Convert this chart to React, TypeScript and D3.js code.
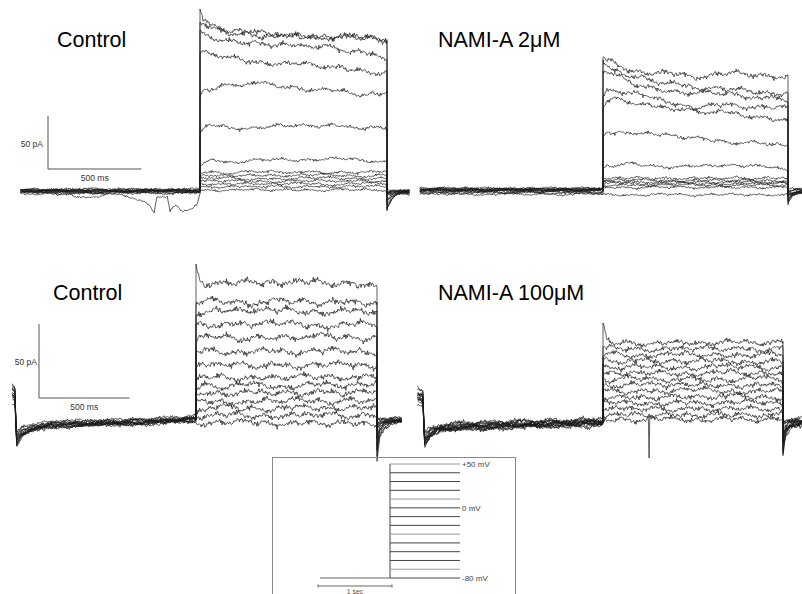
import React from "react";
import * as d3 from "d3";

// sample times (ms after step onset) for the sweep envelopes
const stepTimes = [0, 20, 50, 150, 300, 500, 700, 850, 1000];

// voltage protocol
const stepVoltages = [-80, -70, -60, -50, -40, -30, -20, -10, 0, 10, 20, 30, 40, 50];
const voltageLabels = ["+50 mV", "0 mV", "-80 mV"];
const voltageLabelValues = [50, 0, -80];

const sweepNoise = [
  0.2, 0.6, 0.1, -0.4, -0.2, 0.5, 0.9, 0.3, -0.3, -0.8,
  -0.4, 0.1, 0.7, 0.2, -0.1, 0.4, -0.3, -0.9, -0.5, 0.2,
  0.8, 0.5, -0.2, 0.1, 0.6, 1.0, 0.4, -0.3, -0.6, -0.1,
  0.3, -0.5, -1.0, -0.6, 0.0, 0.5, 0.2, -0.2, 0.4, 0.9,
  0.3, -0.4, -0.7, -0.2, 0.3, 0.7, 0.1, -0.5, -0.2, 0.4,
  0.0, -0.6, -0.9, -0.3, 0.4, 0.8, 0.6, 0.0, -0.4, 0.2,
  0.7, 0.3, -0.3, -0.8, -0.5, 0.1, -0.2, 0.5, 0.9, 0.4,
  -0.2, -0.6, -0.1, 0.6, 0.2, -0.4, -1.0, -0.5, 0.1, 0.6,
  0.3, -0.1, 0.5, 0.8, 0.2, -0.3, -0.7, -0.3, 0.2, -0.2,
  -0.8, -0.4, 0.3, 0.9, 0.5, -0.1, 0.3, 0.7, 0.0, -0.5,
  -0.9, -0.4, 0.2, 0.6, 0.1, -0.3, 0.4, 1.0, 0.5, -0.2,
  -0.6, -0.2, 0.4, 0.1, -0.5, -0.8, -0.3, 0.3, 0.6, 0.0,
];

const sweepSpread = [0.75, 1.2, 0.9, 1.05, 0.8, 1.3, 0.95, 1.1, 0.7, 1.25, 0.85, 1.0, 1.15, 0.9];

// Control (upper), pA
const controlTopSweeps = [
  [172, 163, 158, 152, 149, 146, 145, 144, 142],
  [160, 157, 154, 149, 147, 146, 146, 145, 144],
  [152, 148, 144, 140, 140, 137, 135, 131, 126],
  [133, 131, 128, 125, 122, 120, 117, 114, 111],
  [88, 94, 95, 100, 102, 97, 95, 91, 93],
  [52, 58, 62, 60, 59, 62, 62, 59, 59],
  [24, 27, 29, 27, 29, 29, 31, 29, 27],
  [17, 18, 18, 17, 18, 18, 17, 18, 18],
  [14, 15, 15, 15, 14, 15, 15, 14, 15],
  [11, 12, 12, 12, 11, 12, 12, 12, 12],
  [9, 9, 9, 10, 9, 9, 10, 9, 9],
  [6, 7, 7, 6, 7, 7, 6, 7, 7],
  [4, 4, 4, 4, 4, 4, 4, 4, 4],
  [1, 1, 1, 1, 1, 1, 1, 1, 1],
];
const controlTopHold = [0.5, 1, 0, -0.5, 1.5, -1, 0.5, -1.5, 0, -2, 1, -0.5, -2.5, 0];
const controlTopTailTimes = [1000, 1004, 1025, 1060, 1123];
const controlTopTail = [-18, -15, -8, -3, -1];
const controlTopDipSweeps = [12, 6];
const controlTopDipTimes = [
  [-420, -390, -330, -270, -245, -232, -175, -160, -130, -90, -50, -15, 0],
  [-720, -660, -600, -530, -470],
];
const controlTopDipValues = [
  [0, -2, -6, -11, -18, -3, -4, -17, -12, -17, -14, -10, 0],
  [0, -6, -7, -5, 0],
];

// NAMI-A 2 uM, pA
const nami2Sweeps = [
  [125, 122, 120, 113, 110, 107, 110, 108, 107],
  [121, 117, 113, 107, 102, 97, 94, 92, 92],
  [110, 111, 110, 101, 94, 92, 90, 87, 85],
  [88, 93, 94, 92, 85, 78, 80, 78, 77],
  [78, 84, 87, 83, 78, 74, 73, 68, 64],
  [50, 55, 54, 55, 52, 49, 45, 44, 41],
  [20, 24, 22, 25, 22, 22, 24, 22, 19],
  [11, 11, 11, 11, 11, 11, 11, 11, 11],
  [9, 9, 9, 9, 9, 9, 9, 9, 9],
  [7.5, 7.5, 7.5, 7.5, 7.5, 7.5, 7.5, 7.5, 7.5],
  [6, 6, 6, 6, 6, 6, 6, 6, 6],
  [4.5, 4.5, 4.5, 4.5, 4.5, 4.5, 4.5, 4.5, 4.5],
  [2.5, 2.5, 2.5, 2.5, 2.5, 2.5, 2.5, 2.5, 2.5],
  [-4.5, -4.5, -4.5, -4.5, -4.5, -4.5, -4.5, -4.5, -4.5],
];
const nami2Hold = [0, 1, -0.5, 0.5, -1, 0, 1.5, -1.5, -3, 0.5, -2, 1, -0.5, -4];
const nami2TailTimes = [1000, 1004, 1025, 1060, 1080];
const nami2Tail = [-14, -12, -6, -2, -1];

// Control (lower), pA
const controlBottomSweeps = [
  [102, 94, 92, 91, 92, 93, 92, 91, 90],
  [80, 79, 80, 79, 78, 80, 79, 78, 79],
  [70, 72, 73, 72, 74, 73, 72, 73, 72],
  [62, 64, 64, 63, 65, 64, 63, 64, 64],
  [53, 55, 55, 56, 54, 55, 56, 55, 55],
  [44, 45, 46, 45, 46, 45, 46, 46, 45],
  [34, 36, 36, 37, 36, 36, 36, 37, 36],
  [26, 28, 28, 28, 27, 29, 28, 28, 28],
  [21, 22, 23, 22, 23, 22, 23, 23, 23],
  [16, 17, 18, 17, 18, 17, 18, 18, 18],
  [11, 12, 12, 12, 11, 13, 12, 12, 12],
  [6, 7, 7, 8, 7, 7, 8, 7, 7],
  [2, 2, 2, 3, 2, 2, 3, 2, 2],
  [-2, -2, -3, -3, -2, -3, -3, -3, -3],
];
const controlBottomHold = [0.5, -0.5, 1, 0, -1, 0.5, -0.5, 1, -1.5, 0, 1.5, -1, 0, -2];
const controlBottomDriftTimes = [-1015, -1000, -997, -990, -960, -900, -800, -600, -300, 0];
const controlBottomDrift = [18, 16, 0, -14, -9, -6, -4, -3, -2, 0];
const controlBottomTailTimes = [1000, 1003, 1015, 1040, 1080, 1140];
const controlBottomTail = [-28, -24, -12, -6, -3, -2];

// NAMI-A 100 uM, pA
const nami100Sweeps = [
  [66, 55, 53, 53, 52, 53, 53, 53, 53],
  [50, 49, 49, 49, 48, 49, 49, 48, 49],
  [45, 45, 45, 44, 45, 45, 44, 45, 45],
  [41, 41, 40, 41, 40, 41, 40, 40, 40],
  [37, 36, 36, 37, 36, 36, 37, 36, 36],
  [32, 32, 33, 32, 32, 32, 33, 32, 32],
  [28, 28, 28, 29, 28, 28, 28, 29, 28],
  [24, 24, 24, 24, 25, 24, 24, 24, 24],
  [20, 20, 20, 20, 20, 21, 20, 20, 20],
  [16, 16, 16, 16, 16, 16, 17, 16, 16],
  [12, 12, 12, 12, 12, 12, 12, 13, 12],
  [8, 8, 8, 8, 8, 8, 8, 8, 8],
  [4, 4, 4, 4, 4, 4, 4, 4, 4],
  [1, 1, 1, 1, 1, 1, 1, 1, 1],
];
const nami100Hold = [1, -1, 0.5, -0.5, 1.5, 0, -1.5, 1, -1, 0.5, -2, 2, 0, -0.5];
const nami100DriftTimes = [-1030, -1000, -997, -990, -960, -900, -800, -600, -300, 0];
const nami100Drift = [17, 15, 0, -13, -8, -5, -4, -3, -2, -1];
const nami100TailTimes = [1000, 1003, 1015, 1040, 1070, 1110];
const nami100Tail = [-24, -20, -10, -5, -3, -2];
const nami100SpikeSweep = 13;
const nami100SpikeTime = 255;
const nami100SpikeValue = -25;

const flatDriftTimes = [-1100, 0];
const flatDrift = [0, 0];

type Panel = {
  title: string;
  titleX: number;
  titleY: number;
  onsetX: number;
  offsetX: number;
  zeroY: number;
  fiftyY: number;
  tStart: number;
  tEnd: number;
  sweeps: number[][];
  hold: number[];
  driftTimes: number[];
  drift: number[];
  tailTimes: number[];
  tail: number[];
  noisePre: number;
  noiseLow: number;
  noiseHigh: number;
  dipSweeps?: number[];
  dipTimes?: number[][];
  dipValues?: number[][];
  spike?: { sweep: number; time: number; value: number };
  bar?: { x: number; y: number; pAx: number };
};

const panels: Panel[] = [
  {
    title: "Control", titleX: 57, titleY: 47,
    onsetX: 200, offsetX: 387, zeroY: 191, fiftyY: 138,
    tStart: -960, tEnd: 1123,
    sweeps: controlTopSweeps, hold: controlTopHold,
    driftTimes: flatDriftTimes, drift: flatDrift,
    tailTimes: controlTopTailTimes, tail: controlTopTail,
    noisePre: 1.7, noiseLow: 1.7, noiseHigh: 3.8,
    dipSweeps: controlTopDipSweeps, dipTimes: controlTopDipTimes, dipValues: controlTopDipValues,
    bar: { x: 48, y: 169, pAx: 43 },
  },
  {
    title: "NAMI-A 2\u03bcM", titleX: 438, titleY: 47,
    onsetX: 603, offsetX: 788, zeroY: 190, fiftyY: 137,
    tStart: -990, tEnd: 1076,
    sweeps: nami2Sweeps, hold: nami2Hold,
    driftTimes: flatDriftTimes, drift: flatDrift,
    tailTimes: nami2TailTimes, tail: nami2Tail,
    noisePre: 1.7, noiseLow: 1.7, noiseHigh: 3.8,
  },
  {
    title: "Control", titleX: 53, titleY: 300,
    onsetX: 196, offsetX: 377, zeroY: 419, fiftyY: 345,
    tStart: -1015, tEnd: 1138,
    sweeps: controlBottomSweeps, hold: controlBottomHold,
    driftTimes: controlBottomDriftTimes, drift: controlBottomDrift,
    tailTimes: controlBottomTailTimes, tail: controlBottomTail,
    noisePre: 1.8, noiseLow: 2.9, noiseHigh: 3.3,
    bar: { x: 39, y: 398, pAx: 37 },
  },
  {
    title: "NAMI-A 100\u03bcM", titleX: 438, titleY: 300,
    onsetX: 603, offsetX: 783, zeroY: 421, fiftyY: 347,
    tStart: -1030, tEnd: 1106,
    sweeps: nami100Sweeps, hold: nami100Hold,
    driftTimes: nami100DriftTimes, drift: nami100Drift,
    tailTimes: nami100TailTimes, tail: nami100Tail,
    noisePre: 2.3, noiseLow: 2.6, noiseHigh: 2.6,
    spike: { sweep: nami100SpikeSweep, time: nami100SpikeTime, value: nami100SpikeValue },
  },
];

const font = "'Liberation Sans', Arial, sans-serif";
const N = sweepNoise.length;

// fast jitter plus a slow wander, both taken from the noise profile
function noiseAt(i: number, k: number, pi: number): number {
  const fast = sweepNoise[(i * 7 + k * 13 + pi * 29) % N];
  const pos = i / 7 + k * 37 + pi * 53;
  const j = Math.floor(pos);
  const slow = d3.interpolateNumber(sweepNoise[j % N], sweepNoise[(j + 1) % N])(pos - j);
  const mid = sweepNoise[(i + k * 41 + pi * 17) % N];
  return 0.45 * fast + 0.35 * mid + 0.75 * slow;
}

function sweepPath(p: Panel, pi: number, k: number): string {
  const x = d3.scaleLinear().domain([0, 1000]).range([p.onsetX, p.offsetX]);
  const y = d3.scaleLinear().domain([0, 50]).range([p.zeroY, p.fiftyY]);
  const drift = d3.scaleLinear().domain(p.driftTimes).range(p.drift).clamp(true);
  const env = d3.scaleLinear().domain(stepTimes).range(p.sweeps[k]).clamp(true);
  const tail = d3.scaleLinear().domain(p.tailTimes).range(p.tail).clamp(true);
  const last = stepTimes.length - 1;
  const maxEnd = d3.max(p.sweeps, (s) => s[last]) as number;
  const tailScale = Math.max(0, p.sweeps[k][last]) / maxEnd;
  const di = p.dipSweeps ? p.dipSweeps.indexOf(k) : -1;
  const dip =
    di >= 0
      ? d3.scaleLinear().domain(p.dipTimes![di]).range(p.dipValues![di]).clamp(true)
      : null;
  const amp = p.noiseLow + ((p.noiseHigh - p.noiseLow) * Math.max(0, env(500))) / maxEnd;

  let i = 0;
  const nz = () => noiseAt(i++, k, pi);
  const pts: [number, number][] = [];

  for (let t = p.tStart; t < 0; t += 5) {
    let v = drift(t) * sweepSpread[k] + p.hold[k] + nz() * p.noisePre;
    if (dip) v += dip(t);
    pts.push([x(t), y(v)]);
  }
  pts.push([x(0), y(p.hold[k])]);
  for (let t = 0; t <= 1000; t += 4) {
    let v = env(t) + nz() * amp;
    if (p.spike && p.spike.sweep === k && t === p.spike.time + 1) v = p.spike.value;
    pts.push([x(t), y(v)]);
  }
  for (let t = 1000; t <= p.tEnd; t += 4) {
    const v = tail(t) * tailScale + p.hold[k] + nz() * p.noisePre;
    pts.push([x(t), y(v)]);
  }
  return d3.line()(pts) || "";
}

function TracePanel({ p, pi }: { p: Panel; pi: number }) {
  const x = d3.scaleLinear().domain([0, 1000]).range([p.onsetX, p.offsetX]);
  const y = d3.scaleLinear().domain([0, 50]).range([p.zeroY, p.fiftyY]);
  const barW = x(500) - x(0);
  const barH = y(0) - y(50);
  return (
    <g>
      <text x={p.titleX} y={p.titleY} fontFamily={font} fontSize={21.5} fill="#000">
        {p.title}
      </text>
      {p.bar && (
        <g stroke="#555" strokeWidth={1} fontFamily={font} fontSize={8.5} fill="#333">
          <line x1={p.bar.x} x2={p.bar.x} y1={p.bar.y} y2={p.bar.y - barH} />
          <line x1={p.bar.x} x2={p.bar.x + barW} y1={p.bar.y} y2={p.bar.y} />
          <text x={p.bar.pAx} y={p.bar.y - barH / 2 + 4} textAnchor="end" stroke="none">
            50 pA
          </text>
          <text x={p.bar.x + barW / 2} y={p.bar.y + 12} textAnchor="middle" stroke="none">
            500 ms
          </text>
        </g>
      )}
      <g fill="none" stroke="#1a1a1a" strokeWidth={0.7}>
        {p.sweeps.map((_, k) => (
          <path key={k} d={sweepPath(p, pi, k)} />
        ))}
      </g>
    </g>
  );
}

function Protocol() {
  const x = d3.scaleLinear().domain([-1000, 1000]).range([320, 460]);
  const y = d3.scaleLinear().domain([-80, 50]).range([578, 464]);
  return (
    <g>
      <rect x={272.5} y={457.5} width={243} height={150} fill="none" stroke="#888" strokeWidth={1} />
      <line x1={x(-1000)} x2={x(0)} y1={y(-80)} y2={y(-80)} stroke="#999" strokeWidth={1.4} />
      <line x1={x(0)} x2={x(0)} y1={y(-80)} y2={y(50)} stroke="#444" strokeWidth={1} />
      {stepVoltages.map((v, i) => (
        <line
          key={v}
          x1={x(0)}
          x2={x(1000)}
          y1={y(v)}
          y2={y(v)}
          stroke={i % 4 === 1 ? "#999" : "#444"}
          strokeWidth={1}
        />
      ))}
      {voltageLabels.map((lab, i) => (
        <text
          key={lab}
          x={x(1000) + 2}
          y={y(voltageLabelValues[i]) + 3}
          fontFamily={font}
          fontSize={8}
          fill="#444"
        >
          {lab}
        </text>
      ))}
      <g stroke="#666" strokeWidth={1}>
        <line x1={x(-1000) - 2} x2={x(0) + 2} y1={586} y2={586} />
        <line x1={x(-1000) - 2} x2={x(-1000) - 2} y1={584.5} y2={587.5} />
        <line x1={x(0) + 2} x2={x(0) + 2} y1={584.5} y2={587.5} />
      </g>
      <text x={x(-500)} y={594} textAnchor="middle" fontFamily={font} fontSize={7} fill="#555">
        1 sec
      </text>
    </g>
  );
}

export default function App() {
  return (
    <svg
      width={802}
      height={594}
      viewBox="0 0 802 594"
      style={{ position: "absolute", left: 0, top: 0, background: "#fff" }}
    >
      <rect width={802} height={594} fill="#fff" />
      {panels.map((p, pi) => (
        <TracePanel key={pi} p={p} pi={pi} />
      ))}
      <Protocol />
    </svg>
  );
}
